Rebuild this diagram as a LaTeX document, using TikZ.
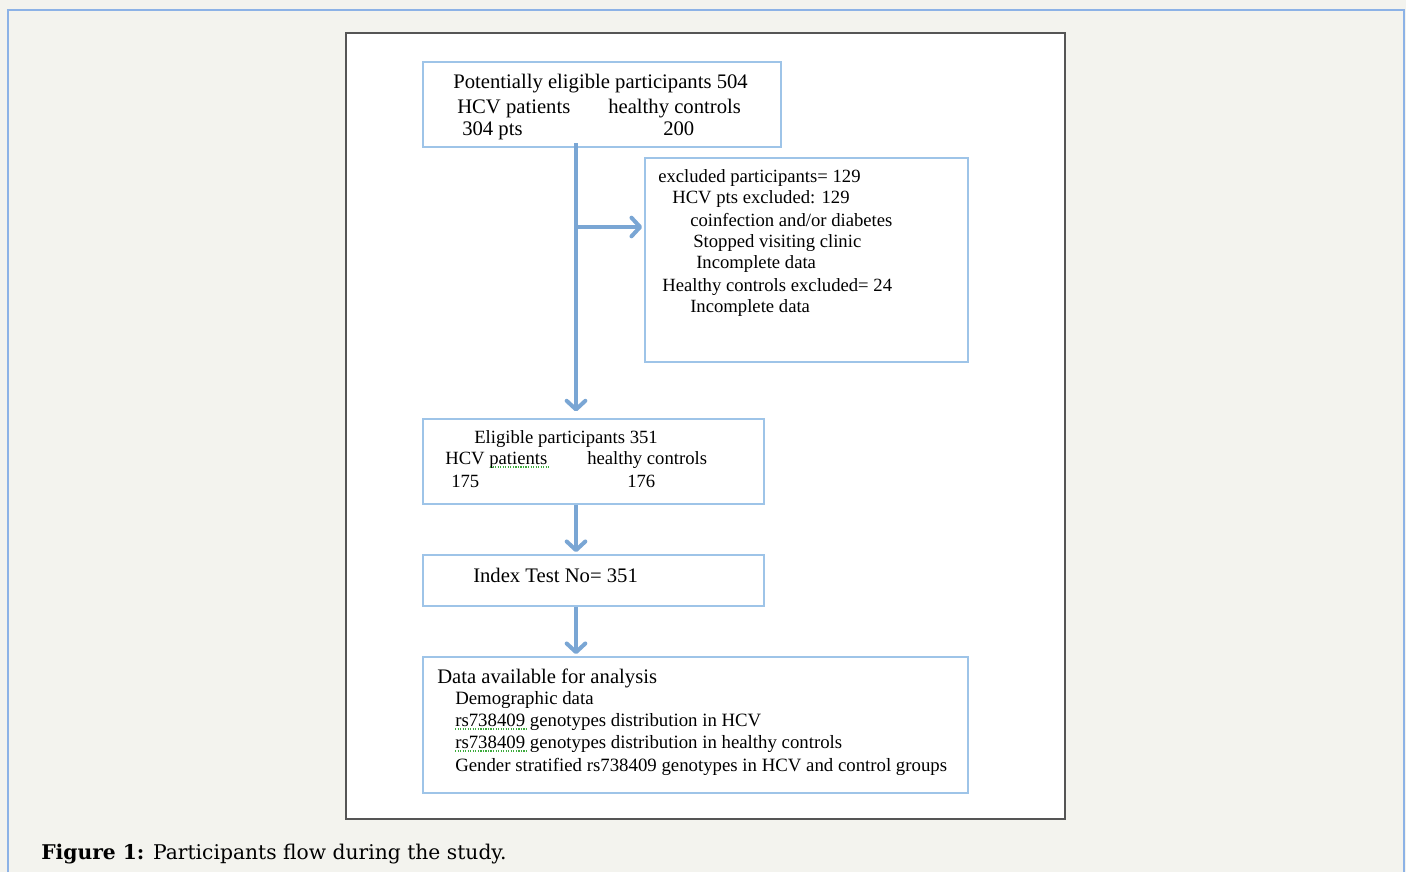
\documentclass[tikz,border=0pt]{standalone}
\usepackage{fontspec}
\setmainfont{Liberation Serif}
\newfontfamily\capfont{DejaVu Serif}
\usetikzlibrary{arrows.meta,fit}

\definecolor{pagegray}{RGB}{243,243,238}
\definecolor{frameblue}{RGB}{140,178,230}
\definecolor{boxblue}{RGB}{158,196,232}
\definecolor{flowblue}{RGB}{122,166,212}
\definecolor{panelgray}{RGB}{85,85,85}
\definecolor{spellgreen}{RGB}{60,170,60}

\begin{document}
\begin{tikzpicture}[x=0.75pt,y=-0.75pt,
	box/.style={draw=boxblue, line width=1.3pt, inner sep=0pt},
	txt/.style={anchor=base west, inner sep=0pt, font=\fontsize{14}{16}\selectfont},
	bigtxt/.style={txt, font=\fontsize{15.5}{18}\selectfont},
	flow/.style={draw=flowblue, line width=3pt, shorten >=1.5pt,
		-{Straight Barb[length=6.5pt,width=14pt,round]}},
	squiggle/.style={draw=spellgreen, densely dotted, line width=0.9pt}]
	\useasboundingbox (0,0) rectangle (1406,872);
	\fill[pagegray] (0,0) rectangle (1406,872);
	\draw[frameblue, line width=1.2pt] (8,872) -- (8,10) -- (1404,10) -- (1404,872);
	\draw[panelgray, fill=white, line width=0.8pt] (346,33) rectangle (1065,819);
	% boxes
	\node[box, fit={(423,62) (781,147)}] (top) {};
	\node[box, fit={(645,158) (968,362)}] (excl) {};
	\node[box, fit={(423,419) (764,504)}] (elig) {};
	\node[box, fit={(423,555) (764,606)}] (index) {};
	\node[box, fit={(423,657) (968,793)}] (data) {};
	% top box
	\node[bigtxt] (t1) at (453,88) {Potentially eligible participants 504};
	\node[bigtxt] (t2) at (457,113) {HCV patients};
	\node[bigtxt] (t3) at (608,113) {healthy controls};
	\node[bigtxt] (t4) at (462,135) {304 pts};
	\node[bigtxt] (t5) at (663,135) {200};
	% excluded box
	\node[txt] (e1) at (658,182) {excluded participants= 129};
	\node[txt] (e2) at (672,203) {HCV pts excluded: 129};
	\node[txt] (e3) at (690,226) {coinfection and/or diabetes};
	\node[txt] (e4) at (693,247) {Stopped visiting clinic};
	\node[txt] (e5) at (696,268) {Incomplete data};
	\node[txt] (e6) at (662,291) {Healthy controls excluded= 24};
	\node[txt] (e7) at (690,312) {Incomplete data};
	% eligible box
	\node[txt] (g1) at (474,443) {Eligible participants 351};
	\node[txt] (g2) at (445,464) {HCV patients};
	\node[txt] (g3) at (587,464) {healthy controls};
	\node[txt] (g4) at (451,487) {175};
	\node[txt] (g5) at (627,487) {176};
	\draw[squiggle] (490,467) -- (549,467);
	% index box
	\node[bigtxt] (i1) at (473,582) {Index Test No= 351};
	% data box
	\node[bigtxt] (d1) at (437,683) {Data available for analysis};
	\node[txt, font=\fontsize{14.1}{16}\selectfont] (d2) at (455,704) {Demographic data};
	\node[txt, font=\fontsize{14.1}{16}\selectfont] (d3) at (455,726) {rs738409 genotypes distribution in HCV};
	\node[txt, font=\fontsize{14.1}{16}\selectfont] (d4) at (455,748) {rs738409 genotypes distribution in healthy controls};
	\node[txt, font=\fontsize{14.1}{16}\selectfont] (d5) at (455,771) {Gender stratified rs738409 genotypes in HCV and control groups};
	\draw[squiggle] (455,729) -- (526,729);
	\draw[squiggle] (455,751) -- (526,751);
	% arrows
	\coordinate (trunk) at (576,143);
	\coordinate (split) at (576,227);
	\draw[flow, shorten >=5pt] (trunk) -- (trunk |- elig.north);
	\draw[flow] (split) -- (excl.west |- split);
	\draw[flow] (elig.south -| trunk) -- (index.north -| trunk);
	\draw[flow] (index.south -| trunk) -- (data.north -| trunk);
	% caption
	\node[anchor=base west, inner sep=0pt, font=\capfont\fontsize{15.2}{17}\selectfont] (cap) at (41,859)
		{\textbf{Figure 1:} Participants flow during the study.};
\end{tikzpicture}
\end{document}
